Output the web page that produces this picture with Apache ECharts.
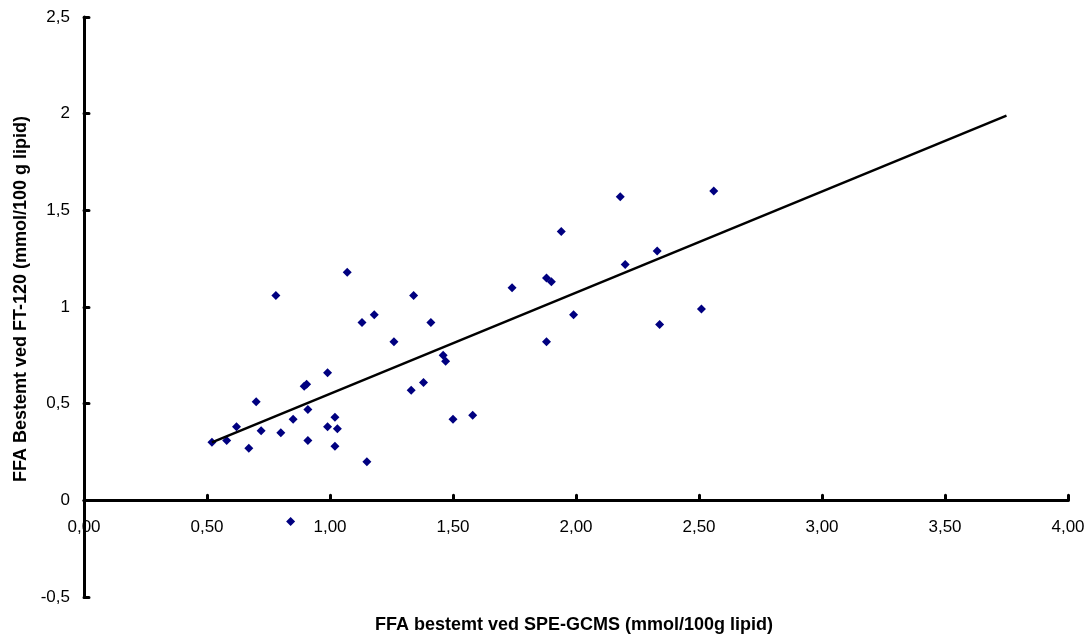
<!DOCTYPE html>
<html>
<head>
<meta charset="utf-8">
<script src="https://cdn.jsdelivr.net/npm/echarts@6/dist/echarts.min.js"></script>
<style>
  html, body { margin: 0; padding: 0; background: #fff; }
  #chart { width: 1092px; height: 640px; }
</style>
</head>
<body>
<div id="chart"></div>
<script>
// FFA målt med SPE-GCMS (x) mot FT-120 (y), mmol/100 g lipid
const speGcms = [
  0.52, 0.58, 0.62, 0.67, 0.70, 0.72, 0.78, 0.80, 0.85, 0.84,
  0.895, 0.905, 0.91, 0.91, 0.99, 0.99, 1.02, 1.03, 1.02, 1.07,
  1.13, 1.18, 1.15, 1.26, 1.34, 1.41, 1.33, 1.38, 1.46, 1.47,
  1.50, 1.58, 1.74, 1.94, 1.88, 1.90, 1.99, 1.88, 2.18, 2.20,
  2.33, 2.34, 2.51, 2.56
];
const ft120 = [
  0.30, 0.31, 0.38, 0.27, 0.51, 0.36, 1.06, 0.35, 0.42, -0.11,
  0.59, 0.60, 0.47, 0.31, 0.66, 0.38, 0.43, 0.37, 0.28, 1.18,
  0.92, 0.96, 0.20, 0.82, 1.06, 0.92, 0.57, 0.61, 0.75, 0.72,
  0.42, 0.44, 1.10, 1.39, 1.15, 1.13, 0.96, 0.82, 1.57, 1.22,
  1.29, 0.91, 0.99, 1.60
];
// endepunkter for regresjonslinja
const trendX = [0.52, 3.75];
const trendY = [0.30, 1.99];

const xTitle = 'FFA bestemt ved SPE-GCMS (mmol/100g lipid)';
const yTitle = 'FFA Bestemt ved FT-120 (mmol/100 g lipid)';

const Y_MIN = -0.5, Y_MAX = 2.5;
const GRID_TOP = 17, GRID_BOTTOM = 43, H = 640;
// x-aksen skal ligge på y = 0, flytt den opp fra bunnen av grid
const gridH = H - GRID_TOP - GRID_BOTTOM;
const xAxisOffset = -gridH * (0 - Y_MIN) / (Y_MAX - Y_MIN);

const chart = echarts.init(document.getElementById('chart'));

const lineStyle = { color: '#000', width: 3, cap: 'round' };

chart.setOption({
  animation: false,
  textStyle: { fontFamily: 'Liberation Sans, Arial, sans-serif' },
  grid: { left: 84, right: 24, top: GRID_TOP, bottom: GRID_BOTTOM },
  graphic: [{
    type: 'text',
    left: 375,
    top: 616,
    style: { text: xTitle, font: 'bold 18px "Liberation Sans", Arial, sans-serif', fill: '#000' }
  }],
  xAxis: {
    type: 'value',
    min: 0,
    max: 4,
    interval: 0.5,
    position: 'bottom',
    offset: xAxisOffset,
    axisLine: { show: true, onZero: false, lineStyle: lineStyle },
    axisTick: { show: true, inside: true, length: 5, lineStyle: lineStyle },
    splitLine: { show: false },
    axisLabel: {
      color: '#000', fontSize: 17, margin: 18,
      formatter: v => v.toFixed(2).replace('.', ',')
    }
  },
  yAxis: {
    type: 'value',
    min: Y_MIN,
    max: Y_MAX,
    interval: 0.5,
    name: yTitle,
    nameLocation: 'middle',
    nameRotate: 90,
    nameGap: 48,
    nameTextStyle: { color: '#000', fontSize: 18, fontWeight: 'bold', padding: [0, 0, 0, 16] },
    axisLine: { show: true, onZero: false, lineStyle: lineStyle },
    axisTick: { show: true, inside: true, length: 5, lineStyle: lineStyle },
    splitLine: { show: false },
    axisLabel: {
      color: '#000', fontSize: 17, margin: 14,
      formatter: v => String(v).replace('.', ',')
    }
  },
  series: [
    {
      type: 'scatter',
      symbol: 'diamond',
      symbolSize: [9, 9],
      itemStyle: { color: '#000080', opacity: 1 },
      data: speGcms.map((x, i) => [x, ft120[i]])
    },
    {
      type: 'line',
      symbol: 'none',
      lineStyle: { color: '#000', width: 2.5 },
      data: trendX.map((x, i) => [x, trendY[i]])
    }
  ]
});
</script>
</body>
</html>
